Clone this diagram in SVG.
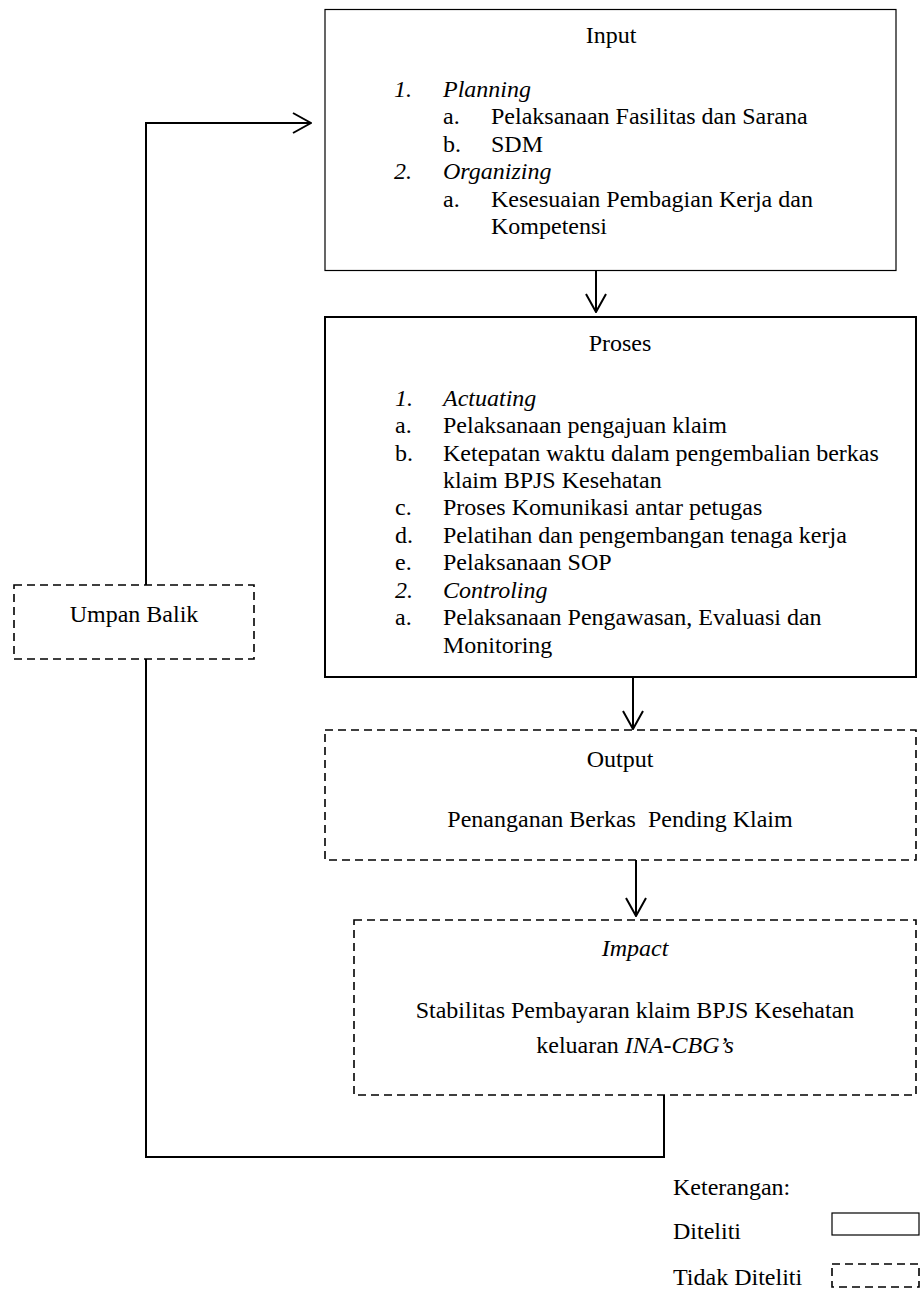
<svg xmlns="http://www.w3.org/2000/svg" width="921" height="1290" viewBox="0 0 921 1290" font-family="'Liberation Serif', 'Times New Roman', 'DejaVu Serif', serif" font-size="24">
<style>
text{font-family:'Liberation Serif','Times New Roman','DejaVu Serif',serif;font-size:24px;fill:#000}
.i{font-style:italic}
.c{text-anchor:middle}
.solid{fill:#fff;stroke:#000}
.dash{fill:#fff;stroke:#000;stroke-width:1.6;stroke-dasharray:8 5}
.conn{fill:none;stroke:#000;stroke-width:2}
</style>
<defs>
<marker id="arr" viewBox="0 0 20 24" refX="19" refY="12" markerWidth="20" markerHeight="24" markerUnits="userSpaceOnUse" orient="auto">
<path d="M1,2 L19,12 L1,22" fill="none" stroke="#000" stroke-width="2"/>
</marker>
</defs>
<rect width="921" height="1290" fill="#fff"/>
<g id="input">
<rect class="solid" x="325" y="9.5" width="571" height="261" stroke-width="1.2"/>
<text class="c" x="611" y="43">Input</text>
<text class="i" x="394" y="97">1.</text><text class="i" x="443" y="97">Planning</text>
<text x="443" y="124">a.</text><text x="491" y="124">Pelaksanaan Fasilitas dan Sarana</text>
<text x="443" y="152">b.</text><text x="491" y="152">SDM</text>
<text class="i" x="394" y="179">2.</text><text class="i" x="443" y="179">Organizing</text>
<text x="443" y="207">a.</text><text x="491" y="207">Kesesuaian Pembagian Kerja dan</text>
<text x="491" y="234">Kompetensi</text>
</g>
<g id="proses">
<rect class="solid" x="325" y="317" width="591" height="360" stroke-width="2"/>
<text class="c" x="620" y="351">Proses</text>
<text class="i" x="395" y="406">1.</text><text class="i" x="443" y="406">Actuating</text>
<text x="395" y="433">a.</text><text x="443" y="433">Pelaksanaan pengajuan klaim</text>
<text x="395" y="461">b.</text><text x="443" y="461">Ketepatan waktu dalam pengembalian berkas</text>
<text x="443" y="488">klaim BPJS Kesehatan</text>
<text x="395" y="515">c.</text><text x="443" y="515">Proses Komunikasi antar petugas</text>
<text x="395" y="543">d.</text><text x="443" y="543">Pelatihan dan pengembangan tenaga kerja</text>
<text x="395" y="570">e.</text><text x="443" y="570">Pelaksanaan SOP</text>
<text class="i" x="395" y="598">2.</text><text class="i" x="443" y="598">Controling</text>
<text x="395" y="625">a.</text><text x="443" y="625">Pelaksanaan Pengawasan, Evaluasi dan</text>
<text x="443" y="653">Monitoring</text>
</g>
<g id="output">
<rect class="dash" x="325" y="730" width="591" height="130"/>
<text class="c" x="620" y="767">Output</text>
<text class="c" x="620" y="827" xml:space="preserve">Penanganan Berkas  Pending Klaim</text>
</g>
<g id="impact">
<rect class="dash" x="354" y="920" width="562" height="175"/>
<text class="c i" x="635" y="956">Impact</text>
<text class="c" x="635" y="1018">Stabilitas Pembayaran klaim BPJS Kesehatan</text>
<text class="c" x="635" y="1053">keluaran <tspan class="i">INA-CBG’s</tspan></text>
</g>
<g id="umpan-balik">
<rect class="dash" x="14" y="585" width="240" height="74"/>
<text class="c" x="134" y="622">Umpan Balik</text>
</g>
<g id="connectors">
<path class="conn" d="M596,271 V312" marker-end="url(#arr)"/>
<path class="conn" d="M633,677 V729" marker-end="url(#arr)"/>
<path class="conn" d="M636,860 V916" marker-end="url(#arr)"/>
<path class="conn" d="M664,1095 V1157 H146 V659"/>
<path class="conn" d="M146,585 V123 H311" marker-end="url(#arr)"/>
</g>
<g id="legend">
<text x="673" y="1195">Keterangan:</text>
<text x="673" y="1239">Diteliti</text>
<rect class="solid" x="832" y="1213" width="87" height="22" stroke-width="1.2"/>
<text x="673" y="1285">Tidak Diteliti</text>
<rect class="dash" x="832" y="1264" width="87" height="23"/>
</g>
</svg>
